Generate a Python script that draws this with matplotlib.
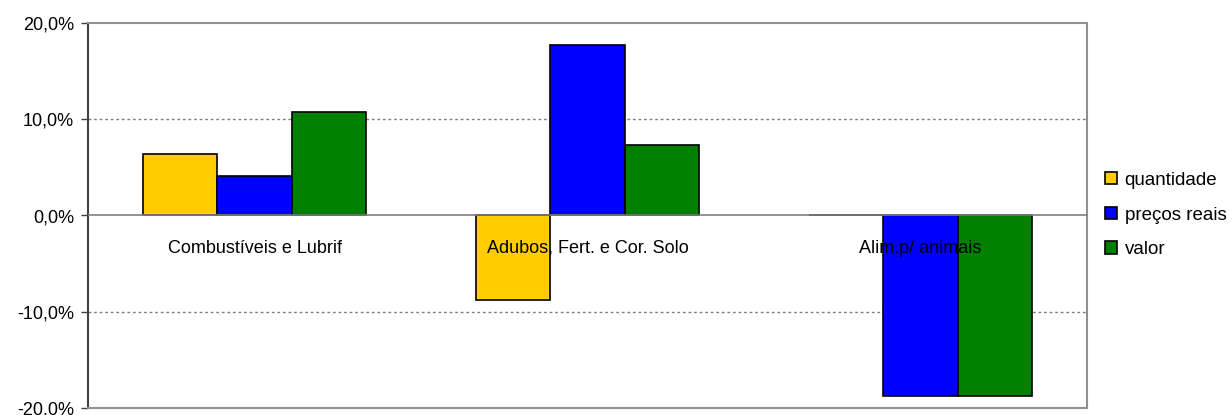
import matplotlib
matplotlib.use("Agg")
import matplotlib.pyplot as plt
import numpy as np
from matplotlib.ticker import FuncFormatter

plt.rcParams['font.family'] = ['Liberation Sans', 'DejaVu Sans']

categories = ["Combustíveis e Lubrif", "Adubos, Fert. e Cor. Solo", "Alim.p/ animais"]
series_names = ["quantidade", "preços reais", "valor"]
quantidade = [6.4, -8.8, 0.0]
precos_reais = [4.1, 17.7, -18.8]
valor = [10.8, 7.3, -18.8]
colors = ["#FFCC00", "#0000FF", "#008000"]

fig = plt.figure(figsize=(12.32, 4.15), dpi=100)
ax = fig.add_axes([88 / 1232, 7 / 415, (1087 - 88) / 1232, (408 - 23) / 415])

x = np.arange(len(categories))
width = 0.224
for i, (vals, name, c) in enumerate(zip([quantidade, precos_reais, valor], series_names, colors)):
    ax.bar(x + (i - 1) * width, vals, width, color=c, edgecolor="black", linewidth=1.2,
           label=name, zorder=3)

ax.set_xlim(-0.5, 2.5)
ax.set_ylim(-20, 20)
ax.set_yticks([-20, -10, 0, 10, 20])
ax.yaxis.set_major_formatter(FuncFormatter(lambda v, p: f"{v:.1f}%".replace(".", ",")))
ax.tick_params(axis="y", labelsize=13, length=5, width=1, color="#404040", pad=5)
ax.set_xticks([])

for yv in (10, -10):
    ax.axhline(yv, color="#808080", linestyle=(0, (2, 2)), linewidth=1, zorder=1)
ax.axhline(0, color="#808080", linewidth=1.2, zorder=4)

for side in ("top", "right", "bottom"):
    ax.spines[side].set_color("#909090")
    ax.spines[side].set_linewidth(1.5)
ax.spines["left"].set_color("#404040")
ax.spines["left"].set_linewidth(1.5)

for xi, lab in zip(x, categories):
    ax.text(xi, -3.4, lab, ha="center", va="center", fontsize=13, zorder=5)

leg = fig.legend(loc="center left", bbox_to_anchor=(1088 / 1232, 1 - 215 / 415),
                 frameon=False, fontsize=13.5, handlelength=0.65, handleheight=0.65,
                 handletextpad=0.4, labelspacing=0.95)

fig.savefig("out.png", dpi=100)
